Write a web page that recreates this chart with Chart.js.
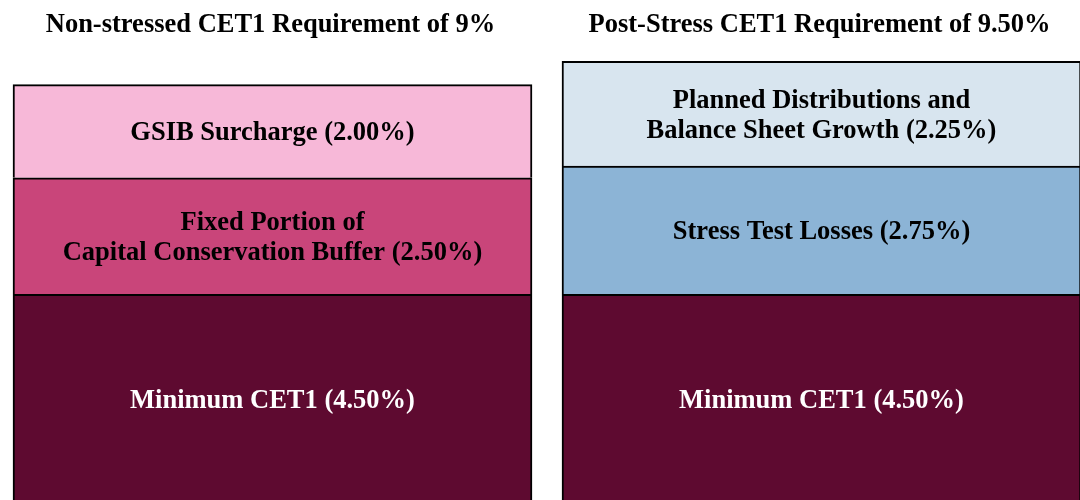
<!DOCTYPE html>
<html>
<head>
<meta charset="utf-8">
<script src="https://cdn.jsdelivr.net/npm/chart.js@4.4.1/dist/chart.umd.min.js"></script>
<style>
  html, body { margin: 0; padding: 0; background: #ffffff; overflow: hidden; }
  #wrap { position: absolute; left: -2px; top: 0; }
</style>
</head>
<body>
<div id="wrap"><canvas id="myChart" width="1098" height="505"></canvas></div>
<script>
// Data
const categories = ['Non-stressed CET1 Requirement of 9%', 'Post-Stress CET1 Requirement of 9.50%'];
const minimumCET1 = [4.5, 4.5];
const fixedCCB = [2.5, null];
const gsibSurcharge = [2.0, null];
const stressLosses = [null, 2.75];
const plannedDistributions = [null, 2.25];

const segmentLabels = {
  minimum: ['Minimum CET1 (4.50%)'],
  ccb: ['Fixed Portion of', 'Capital Conservation Buffer (2.50%)'],
  gsib: ['GSIB Surcharge (2.00%)'],
  stress: ['Stress Test Losses (2.75%)'],
  planned: ['Planned Distributions and', 'Balance Sheet Growth (2.25%)']
};

const serif = '"Liberation Serif", "Times New Roman", serif';
const fontSize = 26.5;

// Draws the titles above bars and labels inside each segment
const labelPlugin = {
  id: 'segmentText',
  afterDatasetsDraw(chart) {
    const ctx = chart.ctx;
    ctx.save();
    ctx.textAlign = 'center';
    ctx.textBaseline = 'alphabetic';
    ctx.font = 'bold ' + fontSize + 'px ' + serif;

    chart.data.datasets.forEach((ds, i) => {
      const meta = chart.getDatasetMeta(i);
      meta.data.forEach((bar, j) => {
        if (ds.data[j] === null) return;
        const lines = ds.textLines;
        const lineH = 30;
        const cy = (bar.y + bar.base) / 2;
        ctx.fillStyle = ds.textColor;
        lines.forEach((line, k) => {
          // baseline sits ~9px below the visual centre of the line
          ctx.fillText(line, bar.x, cy + 9 + (k - (lines.length - 1) / 2) * lineH);
        });
      });
    });

    // Titles
    const meta0 = chart.getDatasetMeta(0);
    ctx.fillStyle = '#000000';
    categories.forEach((title, j) => {
      ctx.fillText(title, meta0.data[j].x - 2, 32);
    });
    ctx.restore();
  }
};

const ctx = document.getElementById('myChart').getContext('2d');

new Chart(ctx, {
  type: 'bar',
  data: {
    labels: categories,
    datasets: [
      { label: 'Minimum CET1', data: minimumCET1, backgroundColor: '#5E0A30', textColor: '#ffffff', textLines: segmentLabels.minimum },
      { label: 'Fixed Portion of CCB', data: fixedCCB, backgroundColor: '#C9457A', textColor: '#000000', textLines: segmentLabels.ccb },
      { label: 'GSIB Surcharge', data: gsibSurcharge, backgroundColor: '#F7B8D8', textColor: '#000000', textLines: segmentLabels.gsib },
      { label: 'Stress Test Losses', data: stressLosses, backgroundColor: '#8CB4D6', textColor: '#000000', textLines: segmentLabels.stress },
      { label: 'Planned Distributions', data: plannedDistributions, backgroundColor: '#D8E5EF', textColor: '#000000', textLines: segmentLabels.planned }
    ]
  },
  options: {
    responsive: false,
    animation: false,
    layout: { padding: { top: 38, bottom: 1, left: 0, right: 0 } },
    datasets: {
      bar: {
        borderColor: '#000000',
        borderWidth: 2,
        borderSkipped: 'start',
        barThickness: 519
      }
    },
    plugins: {
      legend: { display: false },
      tooltip: { enabled: false }
    },
    scales: {
      x: { stacked: true, display: false },
      y: { stacked: true, display: false, min: 0, max: 10 }
    }
  },
  plugins: [labelPlugin]
});
</script>
</body>
</html>
